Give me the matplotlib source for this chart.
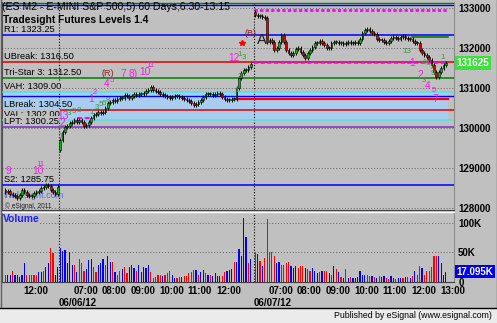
import matplotlib
matplotlib.use("Agg")
import matplotlib.pyplot as plt
import matplotlib.transforms as mtransforms
from matplotlib.lines import Line2D
from matplotlib.patches import Rectangle
import numpy as np

plt.rcParams['font.family'] = ['Liberation Sans', 'DejaVu Sans']

W, H, DPI = 497, 323, 100
BG = '#c0c0c0'

# ---------------- data ----------------
day0_close = [1284, 1284.25, 1283.5, 1283.25, 1283, 1282.5, 1283.25, 1284.5, 1284, 1283.25,
              1283, 1283, 1283.75, 1284, 1284.25, 1285, 1285.25, 1285.75, 1285.5, 1284.5,
              1284, 1283.5, 1285.25]
day1_close = [1297, 1299, 1300.25, 1300.5, 1301.25, 1301.5, 1302, 1301.5, 1302, 1301.5,
              1300.5, 1300.75, 1301.5, 1302.5, 1303.25, 1303.5, 1304, 1303.75, 1304, 1305,
              1306.25, 1306.5, 1307, 1306.75, 1307.25, 1307.5, 1307.5, 1308.25, 1308, 1307.5,
              1308, 1308.5, 1308.25, 1308.5, 1308.5, 1308.75, 1309.25, 1309.5, 1310.25, 1309.5,
              1309.25, 1309, 1308.5, 1308.25, 1308, 1307.75, 1307.5, 1307.75, 1308, 1308,
              1307.75, 1307.5, 1307.25, 1307, 1306.75, 1306.25, 1305.75, 1306, 1306.5, 1307,
              1307.75, 1308.5, 1308.5, 1308.5, 1308.25, 1308.5, 1308.75, 1308.5, 1307.75, 1307.25,
              1307, 1307, 1307.25, 1307.25, 1310, 1312.5, 1313.75, 1314.5, 1314.5, 1315.25,
              1316]
day2_close = [1328.25, 1328, 1328, 1327.75, 1327.5, 1321.5, 1322, 1321.5, 1319.5, 1320,
              1321.5, 1323.25, 1321.5, 1319.5, 1318.75, 1318.25, 1318.75, 1319.75, 1320, 1319,
              1318.25, 1317.5, 1318.75, 1319.5, 1320.25, 1321.25, 1321.25, 1321.75, 1321.25, 1320.75,
              1320, 1320, 1321.25, 1321.5, 1321.5, 1321.25, 1321.25, 1321, 1321.25, 1321.5,
              1321.25, 1321.25, 1321.5, 1321.25, 1322.25, 1323.75, 1324.5, 1324.75, 1324.25, 1323.75,
              1323.5, 1322.25, 1322, 1322, 1321.5, 1321.25, 1321.75, 1322.5, 1322.75, 1322.5,
              1322.25, 1322.75, 1323, 1322.5, 1322.25, 1322.25, 1321.75, 1321.25, 1321.25, 1319.5,
              1318.75, 1318.25, 1317.75, 1317, 1315.75, 1314, 1312.75, 1314, 1315, 1315.75,
              1316.25]
session_open_price = [1284.5, 1294.5, 1329.0]
session_0630 = [-81.0, 0.0, 81.83]     # position of 06:30 for each session (bar units)
session_first = [58, 0, 0]             # first plotted bar, in bars after 06:30
session_dates = ['', '06/06/12', '06/07/12']

# volume in thousands, with bar direction ('b' up / 'r' down)
day0_vol = [12, 11, 11, 18, 12, 11, 8, 12, 31, 12, 12, 12, 12, 12, 17, 17, 18, 25, 31, 57,
            49, 11, 25]
day0_dir = "rbbrbbbbbrrrrrbbrbbrrbb"
day1_vol = [58, 53, 54, 31, 50, 29, 29, 17, 39, 31, 18, 22, 37, 39, 25, 17, 29, 31, 39, 29,
            43, 34, 34, 17, 12, 19, 22, 25, 15, 25, 28, 23, 19, 28, 17, 25, 23, 29, 17, 7,
            8, 12,
            12, 10, 11, 15, 18, 11, 7, 7, 8.5, 8.5, 10, 10, 14, 17, 20, 20, 12, 17, 20, 14,
            11, 11, 10, 14, 10, 10, 10, 16, 18, 20, 22, 34, 34, 56, 43, 108, 76, 31, 39]
day1_dir = ("bbbbbbrbrr" "rbbbr" "rbbbr" "bbrbr" "rbrrb" "bbrbb" "bbbrr" "rr"
            "rbrrrbbrrb" "rrrrrbrbbr" "brbbbbrrbb" "brbbbbbrb")
day2_vol = [48, 47, 35, 26, 40, 107, 51, 50, 43, 32, 34, 28, 28, 32, 34, 26, 23, 27, 24, 26,
            27, 24, 21,
            18, 24, 18, 15, 17, 19, 18, 19, 15, 11, 26, 21, 17, 8, 5.5, 21, 7,
            8, 5.5, 7, 8, 18, 12, 11, 12, 9, 9, 8, 5.5, 9, 8, 9, 5.5, 4, 9, 7, 4, 7,
            7, 5.5, 8, 8,
            5.5, 10, 18, 11, 26, 23, 12, 19, 18, 25, 43, 43, 43, 32, 12, 17]
day2_dir = ("rbrbrrrrrbbrrrrbbbrrrbr" "r" "bbbrbrrbrbrbrbrb" "rbbbbbbrrbrbrbbrrbbrb"
            "brbr" "brbrrbrrrrrrbbbb")

# Tradesight levels
level_names = ['R1', 'UBreak', 'Tri-Star 3', 'VAH', 'LBreak', 'VAL', 'LPT', 'S2']
level_values = [1323.25, 1316.50, 1312.50, 1309.00, 1304.50, 1302.00, 1300.25, 1285.75]
level_colors = ['#0000ff', '#e00000', '#008000', '#48e8e8', '#e00000', '#48e8e8', '#7a2cc8', '#0000ff']
value_area = (1302.00, 1309.00)
plain_levels = [1331.3, 1330.75, 1308.0]
plain_colors = ['#008000', '#0000ff', '#0000ff']

# magenta TD counts: (bar position, price, text, small)
mag_x = [-21.4, -8.8, -7.8, 1.7, 1.3, 13.4, 15.1, 20.1, 22.2, 26.9, 31.1, 36.1, 38.2, 73.4,
         148.1, 151.5, 152.9, 154.8, 157.1, 157.8]
mag_y = [1289.25, 1289.25, 1291, 1303, 1301.25, 1307.25, 1309, 1311, 1312, 1313.5, 1313.5,
         1314, 1315.75, 1317.5, 1316.25, 1313.25, 1312.0, 1310.5, 1309.5, 1307.25]
mag_t = ['9', '10', '11', '13', '2', '1', '2', '4', '5', '7', '8)', '10', '11', '12',
         '1', '2', '3', '4', '5', '7']
mag_small = [0, 0, 1, 0, 0, 0, 1, 0, 1, 0, 0, 0, 1, 0, 0, 0, 1, 0, 1, 0]
# green setup counts
grn_x = [0.8, 4.2, 6.3, 8.4, 13.8, 15.9, 17.6, 18.9, 20.6, 74.7, 76.0, 76.0, 77.7,
         146.0, 153.2, 154.8, 156.5, 157.0, 161.1]
grn_y = [1298, 1303.75, 1304.25, 1304.5, 1304, 1305.25, 1306, 1306.25, 1307, 1309.5, 1313,
         1318.5, 1317.75, 1319.25, 1316.5, 1316.25, 1315.25, 1313.75, 1317.75]
grn_t = ['1', '3', '5', '8', '1', '3', '5', '6', '8', '1', '3', '1', '3',
         '13', '4', '5', '7', '9', '1']
# other marks
brown_x = [20.6, 80.2]
brown_y = [1313.75, 1323.75]
brown_t = ['(R)', '(B)']
red_dot = (76.8, 1321.25)
letter_a = (85.2, 1322.0)

tick_hours = [[12], [7, 8, 9, 10, 11, 12], [7, 8, 9, 10, 11, 12, 13]]
dot_hours = [[12, 13], [7, 8, 9, 10, 11, 12, 13], [7, 8, 9, 10, 11, 12, 13]]
last_price = 1316.25
last_volume = 17.095

# ---------------- layout ----------------
PXB = 28.6 / 12.0                      # pixels per bar
X0 = 59.0                              # pixel of bar position 0
def xpos(px):
    return (px - X0) / PXB

fig = plt.figure(figsize=(W / DPI, H / DPI), dpi=DPI, facecolor=BG)

def frect(l, t, r, b):
    return [l / W, 1 - b / H, (r - l) / W, (b - t) / H]

axp = fig.add_axes(frect(2, 2, 454, 210))
axv = fig.add_axes(frect(2, 213, 454, 282), sharex=axp)
for a in (axp, axv):
    a.set_facecolor(BG)
    a.spines['top'].set_visible(False)
    a.spines['left'].set_color('#505050')
    a.spines['right'].set_color('#8a8a8a')
    a.spines['bottom'].set_color('#404040')

axp.set_xlim(xpos(2), xpos(454))
axp.set_ylim(1279.5, 1331.5)
axv.set_ylim(-0.5, 116.8)

# ---------- bars ----------
xs, op, cl = [], [], []
closes_all = [day0_close, day1_close, day2_close]
for s, closes in enumerate(closes_all):
    base = session_0630[s] + session_first[s]
    prev = session_open_price[s]
    for k, c in enumerate(closes):
        xs.append(base + k + 0.5)
        op.append(prev)
        cl.append(c)
        prev = c
xs = np.array(xs); op = np.array(op); cl = np.array(cl)
WICK = 0.5
hi = np.maximum(op, cl) + WICK
lo = np.minimum(op, cl) - WICK
bcol = np.where(cl >= op, '#00c000', '#e00000')
axp.vlines(xs, lo, hi, color='black', lw=0.7, zorder=6)
axp.bar(xs, np.maximum(np.abs(cl - op), 0.15), bottom=np.minimum(op, cl), width=0.72,
        color=bcol, edgecolor='black', linewidth=0.4, zorder=7)

vols = np.array(day0_vol + day1_vol + day2_vol, dtype=float)
vdir = day0_dir + day1_dir + day2_dir
vcol = ['#0000ff' if d == 'b' else '#ff0000' for d in vdir]
axv.bar(xs, vols, width=0.5, color=vcol, linewidth=0, zorder=4)

x_end = xs[-1] + 1.0

# ---------- grid ----------
for p in range(1280, 1331, 10):
    axp.axhline(p, color='#303030', lw=0.55, ls=(0, (1, 2.8)), zorder=2)
for v in (50, 100):
    axv.axhline(v, color='#303030', lw=0.55, ls=(0, (1, 2.8)), zorder=2)
dx = []
for s in range(3):
    for h in dot_hours[s]:
        dx.append(session_0630[s] + (h - 6.5) * 12)
for p in range(1285, 1330, 10):
    axp.scatter(dx, [p] * len(dx), s=0.35, color='black', marker='s', lw=0, zorder=2)
for v in (25, 75):
    axv.scatter(dx, [v] * len(dx), s=0.35, color='black', marker='s', lw=0, zorder=2)
for s in (1, 2):
    for a in (axp, axv):
        a.axvline(session_0630[s], color='black', lw=0.8, ls=(0, (1, 1.6)), zorder=3)

# ---------- levels ----------
axp.fill_between([xpos(2), x_end], value_area[0], value_area[1], color='#a9cdee', lw=0, zorder=1)
for v, c in zip(plain_levels, plain_colors):
    axp.axhline(v, color=c, lw=1.0, zorder=3)
for name, v, c in zip(level_names, level_values, level_colors):
    axp.axhline(v, color=c, lw=1.1, zorder=3)
    box = None
    if name in ('VAH', 'VAL', 'LPT'):
        box = dict(facecolor=BG, edgecolor='none', pad=0.6)
    axp.annotate(f'{name}: {v:.2f}', xy=(0, v), xycoords=axp.get_yaxis_transform(),
                 xytext=(1.5, 6), textcoords='offset pixels', ha='left', va='center',
                 fontsize=6.7, color='black', bbox=box,
                 zorder=9 if name == 'LPT' else 8)
# session-specific lines
axp.plot([session_0630[2], x_end], [1329.5, 1329.5], color='#ff00ff', lw=2.0,
         ls=(0, (1.2, 0.8)), zorder=4)
axp.plot([session_0630[2], x_end], [1316.25, 1316.25], color='#ff00ff', lw=1.2,
         ls=(0, (2.5, 1.5)), zorder=4)
axp.plot([xpos(236), x_end], [1307.25, 1307.25], color='#ff0000', lw=1.6, zorder=4)
axp.plot([xpos(412), x_end], [1322.75, 1322.75], color='#008000', lw=1.2, zorder=4)
axp.plot([xpos(77), xpos(93)], [1302.5, 1302.5], color='#ff00ff', lw=1.4,
         ls=(0, (2.5, 1.5)), zorder=5)

# ---------- marks ----------
for x, y, t, sm in zip(mag_x, mag_y, mag_t, mag_small):
    axp.text(x, y, t, fontsize=5.6 if sm else 7.4, color='#f020e0', ha='center',
             va='center', zorder=10)
for x, y, t in zip(grn_x, grn_y, grn_t):
    axp.text(x, y, t, fontsize=5.8, color='#3a9a3a', ha='center', va='center', zorder=10)
for x, y, t in zip(brown_x, brown_y, brown_t):
    axp.text(x, y, t, fontsize=6.5, color='#8b2020', ha='center', va='center', zorder=10)
axp.plot([red_dot[0]], [red_dot[1]], marker='*', ms=4, color='#ff0000', mec='#ff0000',
         zorder=10)
axp.text(letter_a[0], letter_a[1], 'A', fontsize=10.5, color='#202020', ha='center',
         va='center', zorder=10)

# ---------- texts ----------
axp.text(0.0, 1.0, '(ES M2 - E-MINI S&P 500,5) 60 Days,6:30-13:15', transform=axp.transAxes,
         ha='left', va='top', fontsize=7.6, color='black', clip_on=False, zorder=11)
axp.annotate('Tradesight Futures Levels 1.4', xy=(0, 1), xycoords='axes fraction',
             xytext=(1, -18), textcoords='offset pixels', ha='left', va='center',
             fontsize=7.4, fontweight='bold', color='black', zorder=11)
axp.annotate('tradesight.com', xy=(0, 0), xycoords='axes fraction', xytext=(2, 15),
             textcoords='offset pixels', ha='left', va='center', fontsize=6.6,
             color='#5a6af0', zorder=5)
axp.annotate('© eSignal, 2011', xy=(0, 0), xycoords='axes fraction', xytext=(3, 4),
             textcoords='offset pixels', ha='left', va='center', fontsize=4.8,
             color='#202020', zorder=5)
axv.annotate('Volume', xy=(0, 1), xycoords='axes fraction', xytext=(1, -6),
             textcoords='offset pixels', ha='left', va='center', fontsize=7.4,
             fontweight='bold', color='#2020ff', zorder=8,
             bbox=dict(facecolor=BG, edgecolor='none', pad=0.3))

# ---------- axes ticks ----------
axp.yaxis.tick_right()
pt = list(range(1280, 1331, 10))
axp.set_yticks(pt, [f'{int(p * 100)}' for p in pt])
axp.tick_params(axis='y', length=0, pad=3, labelsize=7)
for t in axp.get_yticklabels():
    t.set_fontweight('bold')
axp.tick_params(axis='x', which='both', length=0, labelbottom=False)

axv.yaxis.tick_right()
axv.set_yticks([0, 50, 100], ['0', '50K', '100K'])
axv.tick_params(axis='y', length=0, pad=3, labelsize=7)
for t in axv.get_yticklabels():
    t.set_fontweight('bold')

tp, tl = [], []
for s in range(3):
    for h in tick_hours[s]:
        tp.append(session_0630[s] + (h - 6.5) * 12)
        tl.append(f'{h:02d}:00')
axv.set_xticks(tp, tl)
axv.set_xticks([session_0630[1], session_0630[2]], session_dates[1:], minor=True)
axv.tick_params(axis='x', which='major', length=0, pad=2.6, labelsize=7)
axv.tick_params(axis='x', which='minor', length=0, pad=11.5, labelsize=7)
for t in axv.get_xticklabels(which='both'):
    t.set_ha('left')
    t.set_fontweight('bold')
axv.set_xlim(xpos(2), xpos(454))

# last price / last volume boxes
axp.text(1.006, last_price, f'{int(last_price * 100)}',
         transform=mtransforms.blended_transform_factory(axp.transAxes, axp.transData),
         ha='left', va='center', fontsize=7, fontweight='bold', color='white',
         bbox=dict(facecolor='#3ee03e', edgecolor='none', pad=1.3), clip_on=False, zorder=12)
axv.text(1.006, last_volume, f'{last_volume:.3f}K',
         transform=mtransforms.blended_transform_factory(axv.transAxes, axv.transData),
         ha='left', va='center', fontsize=7, fontweight='bold', color='white',
         bbox=dict(facecolor='#0000f0', edgecolor='none', pad=1.3), clip_on=False, zorder=12)

# ---------- frame decorations ----------
fig.lines.append(Line2D([2 / W, 454 / W], [1 - 211.5 / H] * 2, color='white', lw=1.0,
                        transform=fig.transFigure))
fig.patches.append(Rectangle((0, 0), 1, 1 - 307.5 / H, transform=fig.transFigure,
                             facecolor='#ebebeb', edgecolor='none', zorder=0))
fig.lines.append(Line2D([0, 1], [1 - 307.5 / H] * 2, color='black', lw=1.0,
                        transform=fig.transFigure))
fig.lines.append(Line2D([1 - 0.5 / W] * 2, [1 - 307 / H, 1], color='#606060', lw=1.0,
                        transform=fig.transFigure))
fig.lines.append(Line2D([0.5 / W] * 2, [1 - 307 / H, 1], color='#606060', lw=1.0,
                        transform=fig.transFigure))
fig.text(492 / W, 1 - 316 / H, 'Published by eSignal (www.esignal.com)', ha='right',
         va='center', fontsize=6.3, color='black')

fig.savefig('out.png', dpi=DPI, facecolor=BG)
